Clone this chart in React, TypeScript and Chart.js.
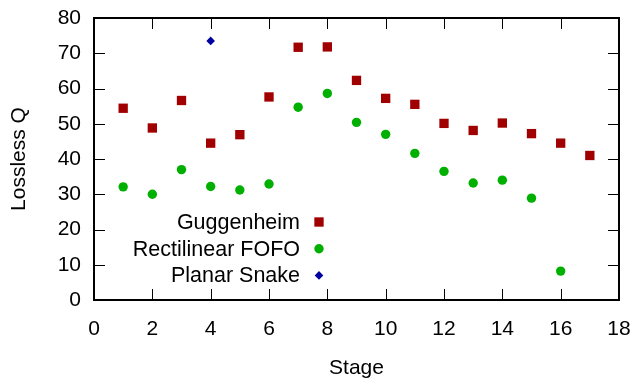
import React, { useEffect, useRef } from 'react';
import { Chart, registerables } from 'chart.js';

Chart.register(...registerables);

const stages = [1, 2, 3, 4, 5, 6, 7, 8, 9, 10, 11, 12, 13, 14, 15, 16, 17];
const guggenheim = [54.4, 48.8, 56.6, 44.5, 46.9, 57.6, 71.7, 71.8, 62.3, 57.2, 55.5, 50.1, 48.1, 50.2, 47.2, 44.5, 41.0];
const fofoStages = [1, 2, 3, 4, 5, 6, 7, 8, 9, 10, 11, 12, 13, 14, 15, 16];
const fofo = [32.1, 30.0, 37.0, 32.2, 31.2, 32.9, 54.7, 58.6, 50.4, 47.0, 41.6, 36.5, 33.2, 34.0, 28.9, 8.2];
const snakeStages = [4];
const snake = [73.5];

const seriesNames = ['Guggenheim', 'Rectilinear FOFO', 'Planar Snake'];
const seriesColors = ['#a00000', '#00b000', '#0000a0'];
const seriesStyles = ['rect', 'circle', 'rectRot'];
const seriesRadius = [6.6, 4.7, 4.3];

const xTitle = 'Stage';
const yTitle = 'Lossless Q';
const FONT = "'Liberation Sans', Arial, sans-serif";

export default function App() {
  const ref = useRef<HTMLCanvasElement>(null);

  useEffect(() => {
    document.body.style.margin = '0';
    const ctx = ref.current!.getContext('2d')!;
    const mk = (xs: number[], ys: number[]) => xs.map((x, i) => ({ x, y: ys[i] }));
    const datas = [mk(stages, guggenheim), mk(fofoStages, fofo), mk(snakeStages, snake)];

    const framePlugin = {
      id: 'frame',
      afterDraw(chart: any) {
        const c = chart.ctx;
        const a = chart.chartArea;
        const xs = chart.scales.x;
        const ys = chart.scales.y;
        const tl = 11;
        c.save();
        c.strokeStyle = '#000';
        c.lineWidth = 1;
        c.beginPath();
        xs.ticks.forEach((t: any) => {
          const px = Math.round(xs.getPixelForValue(t.value)) + 0.5;
          c.moveTo(px, a.bottom); c.lineTo(px, a.bottom - tl);
          c.moveTo(px, a.top); c.lineTo(px, a.top + tl);
        });
        ys.ticks.forEach((t: any) => {
          const py = Math.round(ys.getPixelForValue(t.value)) + 0.5;
          c.moveTo(a.left, py); c.lineTo(a.left + tl, py);
          c.moveTo(a.right, py); c.lineTo(a.right - tl, py);
        });
        c.stroke();
        c.lineWidth = 2;
        c.strokeRect(a.left, a.top, a.right - a.left, a.bottom - a.top);

        // key
        c.font = `21.5px ${FONT}`;
        c.textAlign = 'right';
        c.textBaseline = 'middle';
        const textRight = a.left + 206;
        const markX = a.left + 225;
        const row0 = a.top + 204;
        const rowH = 26.7;
        seriesNames.forEach((name, i) => {
          const y = row0 + i * rowH;
          c.fillStyle = '#000';
          c.fillText(name, textRight, y + 1);
          c.fillStyle = seriesColors[i];
          c.beginPath();
          const r = seriesRadius[i];
          if (seriesStyles[i] === 'rect') {
            const s = r * Math.SQRT1_2;
            c.rect(markX - s, y - s, 2 * s, 2 * s);
          } else if (seriesStyles[i] === 'circle') {
            c.arc(markX, y, r, 0, Math.PI * 2);
          } else {
            c.moveTo(markX, y - r); c.lineTo(markX + r, y); c.lineTo(markX, y + r); c.lineTo(markX - r, y); c.closePath();
          }
          c.fill();
        });
        c.restore();
      },
    };

    const chart = new Chart(ctx, {
      type: 'scatter',
      data: {
        datasets: datas.map((d, i) => ({
          label: seriesNames[i],
          data: d,
          pointStyle: seriesStyles[i] as any,
          pointRadius: seriesRadius[i],
          pointBackgroundColor: seriesColors[i],
          pointBorderColor: seriesColors[i],
          pointBorderWidth: 0,
          showLine: false,
        })),
      },
      options: {
        animation: false,
        responsive: false,
        layout: { padding: { top: 18, right: 16, left: 0, bottom: 0 } },
        plugins: { legend: { display: false }, tooltip: { enabled: false } },
        scales: {
          x: {
            type: 'linear',
            min: 0,
            max: 18,
            ticks: { stepSize: 2, padding: 9, color: '#000', font: { family: FONT, size: 21 } },
            grid: { display: false },
            border: { display: false },
            title: { display: true, text: xTitle, color: '#000', font: { family: FONT, size: 21 }, padding: { top: 0, bottom: 3 } },
            afterFit: (s: any) => { s.height = 84; s.paddingLeft = 0; s.paddingRight = 0; },
          },
          y: {
            type: 'linear',
            min: 0,
            max: 80,
            ticks: { stepSize: 10, padding: 5, color: '#000', font: { family: FONT, size: 21 } },
            grid: { display: false },
            border: { display: false },
            title: { display: true, text: yTitle, color: '#000', font: { family: FONT, size: 21 }, padding: { top: 7, bottom: 0 } },
            afterFit: (s: any) => { s.width = 94; s.paddingTop = 0; s.paddingBottom = 0; },
          },
        },
      },
      plugins: [framePlugin],
    });
    return () => chart.destroy();
  }, []);

  return (
    <div style={{ position: 'absolute', left: 0, top: 0, width: 635, height: 384 }}>
      <canvas ref={ref} width={635} height={384} />
    </div>
  );
}
